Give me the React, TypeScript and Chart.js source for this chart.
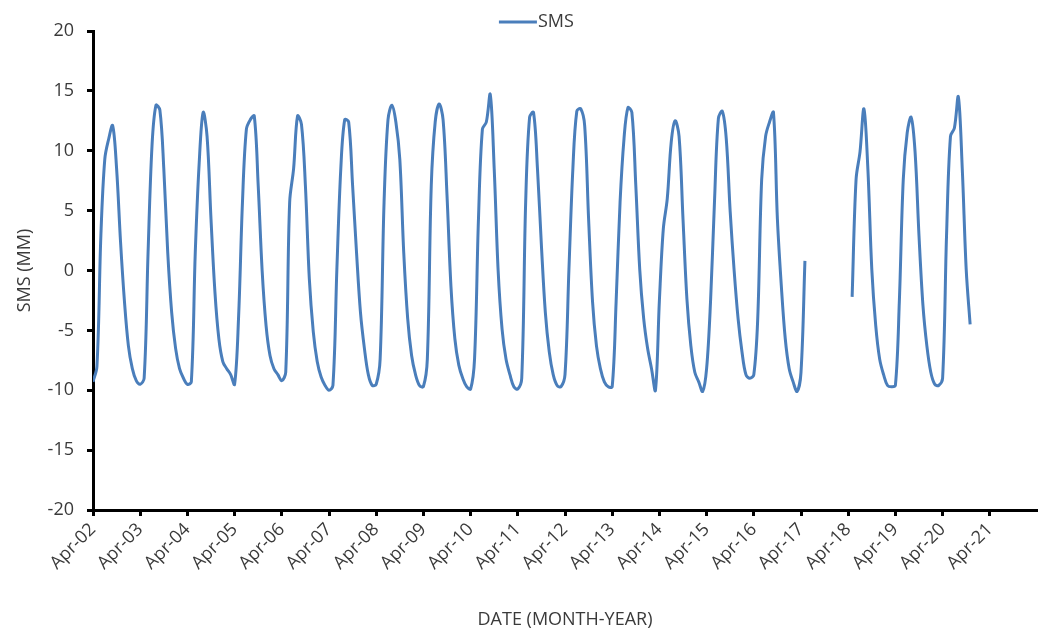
import { useEffect, useRef } from 'react';
import { Chart, registerables } from 'chart.js';

Chart.register(...registerables);

// tick labels, one per April (every 12 months)
const yearLabels = [
    'Apr-02', 'Apr-03', 'Apr-04', 'Apr-05', 'Apr-06', 'Apr-07', 'Apr-08',
    'Apr-09', 'Apr-10', 'Apr-11', 'Apr-12', 'Apr-13', 'Apr-14', 'Apr-15',
    'Apr-16', 'Apr-17', 'Apr-18', 'Apr-19', 'Apr-20', 'Apr-21',
];

// monthly SMS (mm), starting Apr-02; one row = Apr..Mar
const smsValues: (number | null)[] = [
    -9.3, -8.0, 2.9, 9.3, 11.0, 12.1, 8.5, 2.4, -2.6, -6.3, -8.2, -9.2,
    -9.5, -9.0, 1.5, 10.4, 13.8, 13.4, 8.5, 1.5, -3.5, -6.5, -8.2, -9.0,
    -9.5, -9.3, 1.5, 9.0, 13.2, 11.2, 4.3, -1.8, -5.7, -7.6, -8.2, -8.7,
    -9.5, -4.0, 5.7, 11.8, 12.6, 12.9, 7.1, 0.0, -4.6, -7.1, -8.2, -8.7,
    -9.2, -8.5, 5.7, 8.5, 12.9, 12.2, 7.1, -0.7, -5.1, -7.6, -8.9, -9.6,
    -10.0, -9.6, 0.1, 8.5, 12.6, 12.4, 7.1, 1.5, -3.5, -6.5, -8.7, -9.6,
    -9.5, -7.4, 5.7, 12.6, 13.8, 12.4, 9.3, 1.5, -4.0, -7.1, -8.7, -9.6,
    -9.7, -7.4, 7.1, 12.4, 13.9, 12.6, 6.3, -1.3, -5.7, -7.9, -9.0, -9.7,
    -9.9, -7.4, 4.3, 11.8, 12.4, 14.7, 8.5, 0.0, -4.9, -7.4, -8.7, -9.7,
    -9.9, -9.0, 5.7, 12.8, 13.2, 8.5, 2.1, -3.5, -6.8, -8.7, -9.6, -9.7,
    -8.7, 0.1, 8.5, 13.3, 13.5, 12.1, 4.3, -2.6, -6.3, -8.2, -9.3, -9.7,
    -9.7, -2.6, 5.7, 11.0, 13.6, 13.2, 7.1, 0.1, -4.0, -6.5, -8.2, -10.0,
    -2.5, 3.5, 6.0, 10.7, 12.5, 11.2, 4.3, -2.4, -6.3, -8.5, -9.3, -10.1,
    -8.2, -2.6, 5.7, 12.7, 13.3, 11.0, 4.9, 0.0, -4.0, -6.8, -8.7, -9.0,
    -8.7, -4.0, 7.6, 11.2, 12.4, 13.2, 4.3, -1.3, -5.7, -8.2, -9.3, -10.1,
    -8.5, 0.8, null, null, null, null, null, null, null, null, null, null,
    null, -2.2, 7.6, 9.9, 13.5, 8.5, 0.1, -4.6, -7.4, -8.7, -9.6, -9.7,
    -9.6, -2.6, 7.6, 11.5, 12.8, 9.9, 2.9, -2.9, -6.3, -8.5, -9.5, -9.6,
    -9.0, 2.9, 11.2, 11.9, 14.5, 8.5, 0.1, -4.5,
];

const lineColor = '#4A7EBB';
const textColor = '#3a3a3a';
const fontFamily = '"Open Sans", "Noto Sans", sans-serif';

// simple line-style legend above the plot
const legendPlugin = {
    id: 'smsLegend',
    afterDraw(chart: Chart) {
        const { ctx, chartArea } = chart;
        const y = chartArea.top - 9;
        const x = chartArea.left + chartArea.width * 0.43;
        ctx.save();
        ctx.strokeStyle = lineColor;
        ctx.lineWidth = 3;
        ctx.beginPath();
        ctx.moveTo(x, y);
        ctx.lineTo(x + 38, y);
        ctx.stroke();
        ctx.fillStyle = textColor;
        ctx.font = `18px ${fontFamily}`;
        ctx.textBaseline = 'middle';
        ctx.fillText('SMS', x + 39, y);
        ctx.restore();
    },
};

export default function App() {
    const canvasRef = useRef<HTMLCanvasElement>(null);

    useEffect(() => {
        const ctx = canvasRef.current!.getContext('2d')!;

        const chart = new Chart(ctx, {
            type: 'line',
            data: {
                datasets: [
                    {
                        label: 'SMS',
                        data: smsValues.map((v, i) => ({ x: i, y: v })),
                        borderColor: lineColor,
                        borderWidth: 3,
                        pointRadius: 0,
                        tension: 0.35,
                        spanGaps: false,
                        fill: false,
                    },
                ],
            },
            options: {
                animation: false,
                responsive: false,
                layout: { padding: { top: 31, right: 7, left: 0, bottom: 0 } },
                plugins: {
                    legend: { display: false },
                    tooltip: { enabled: false },
                },
                scales: {
                    x: {
                        type: 'linear',
                        min: 0,
                        max: 240,
                        afterFit: (scale: any) => { scale.height = 121; },
                        afterBuildTicks: (scale: any) => {
                            scale.ticks = scale.ticks.filter(
                                (t: any) => t.value % 12 === 0 && t.value / 12 < yearLabels.length,
                            );
                        },
                        ticks: {
                            stepSize: 12,
                            autoSkip: false,
                            minRotation: 45,
                            maxRotation: 45,
                            padding: 3,
                            color: textColor,
                            font: { family: fontFamily, size: 18 },
                            callback: (v: any) => yearLabels[Number(v) / 12] ?? '',
                        },
                        grid: {
                            drawOnChartArea: false,
                            drawTicks: true,
                            tickLength: 6,
                            tickWidth: 3,
                            tickColor: '#000',
                        },
                        border: { display: true, color: '#000', width: 3 },
                        title: {
                            display: true,
                            text: 'DATE (MONTH-YEAR)',
                            color: textColor,
                            font: { family: fontFamily, size: 18 },
                            padding: { top: 0, bottom: 0 },
                        },
                    },
                    y: {
                        min: -20,
                        max: 20,
                        afterFit: (scale: any) => { scale.width = 93; },
                        ticks: {
                            stepSize: 5,
                            padding: 13,
                            color: textColor,
                            font: { family: fontFamily, size: 18 },
                        },
                        grid: {
                            drawOnChartArea: false,
                            drawTicks: true,
                            tickLength: 6,
                            tickWidth: 3,
                            tickColor: '#000',
                        },
                        border: { display: true, color: '#000', width: 3 },
                        title: {
                            display: true,
                            text: 'SMS (MM)',
                            color: textColor,
                            font: { family: fontFamily, size: 18 },
                            padding: { top: 14, bottom: 0 },
                        },
                    },
                },
            },
            plugins: [legendPlugin],
        });

        return () => {
            chart.destroy();
        };
    }, []);

    return (
        <div style={{ position: 'fixed', left: 0, top: 0, width: 1044, height: 631, background: '#fff' }}>
            <canvas ref={canvasRef} width={1044} height={631} />
        </div>
    );
}
